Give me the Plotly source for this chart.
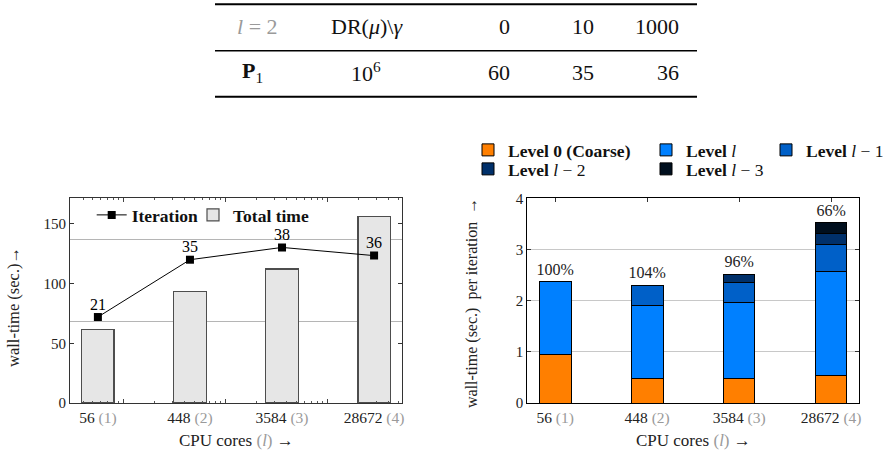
import math
import plotly.graph_objects as go

# ---------------- data ----------------
cores = [56, 448, 3584, 28672]
levels = [1, 2, 3, 4]
total_time = [61.2, 93.0, 112.1, 155.9]
iterations = [21, 35, 38, 36]

level0 = [0.956, 0.488, 0.488, 0.539]
level_l = [1.417, 1.424, 1.475, 2.029]
level_l1 = [0.0, 0.390, 0.398, 0.534]
level_l2 = [0.0, 0.0, 0.156, 0.208]
level_l3 = [0.0, 0.0, 0.0, 0.214]
efficiency = ["100%", "104%", "96%", "66%"]

gammas = ["0", "10", "1000"]
p1_iterations = ["60", "35", "36"]

# ---------------- helpers ----------------
W, H = 883, 453
FONT = "Liberation Serif"
GRAY = "#9a9a9a"


def px(x):
    return x / W


def py(y):
    return 1 - y / H


cats = [str(c) for c in cores]
ticktext = [f'{c} <span style="color:{GRAY}">({l})</span>' for c, l in zip(cores, levels)]

fig = go.Figure()

# ---------------- left chart ----------------
fig.add_trace(go.Bar(
    x=cats, y=total_time, name="<b>Total time</b>", width=0.351,
    marker=dict(color="#e6e6e6", line=dict(color="#4d4d4d", width=1.2)),
    xaxis="x", yaxis="y", legend="legend2", hoverinfo="skip",
))
fig.add_trace(go.Scatter(
    x=cores, y=iterations, name="<b>Iteration</b>", mode="lines+markers",
    line=dict(color="black", width=1), marker=dict(symbol="square", size=8, color="black"),
    xaxis="x3", yaxis="y3", legend="legend", hoverinfo="skip",
))
fig.add_trace(go.Scatter(
    x=cores, y=iterations, mode="markers+text", text=[str(v) for v in iterations],
    textposition="top center", textfont=dict(family=FONT, size=16, color="black"),
    marker=dict(size=4, color="rgba(0,0,0,0)"),
    xaxis="x3", yaxis="y3", showlegend=False, hoverinfo="skip",
))

# ---------------- right chart ----------------
stack = [
    (level0, "<b>Level 0 (Coarse)</b>", "#ff7f00", "legend3"),
    (level_l, "<b>Level </b><i>l</i>", "#0080ff", "legend4"),
    (level_l1, "<b>Level </b><i>l</i> − 1", "#0060c8", "legend5"),
    (level_l2, "<b>Level </b><i>l</i> − 2", "#00306a", "legend6"),
    (level_l3, "<b>Level </b><i>l</i> − 3", "#000f1e", "legend7"),
]
for vals, name, col, lg in stack:
    fig.add_trace(go.Bar(
        x=cats, y=vals, name=name, width=0.345,
        marker=dict(color=col, line=dict(color="black", width=1)),
        xaxis="x2", yaxis="y2", legend=lg, hoverinfo="skip",
    ))

totals = [a + b + c + d + e for a, b, c, d, e in zip(level0, level_l, level_l1, level_l2, level_l3)]
fig.add_trace(go.Scatter(
    x=cats, y=totals, mode="markers+text", text=efficiency, textposition="top center",
    marker=dict(size=3, color="rgba(0,0,0,0)"),
    textfont=dict(family=FONT, size=16, color="#222"), showlegend=False,
    xaxis="x2", yaxis="y2", hoverinfo="skip",
))

# ---------------- layout ----------------
dom_y = [py(403), py(198.3)]
cat_range = [-0.303, 3.3]
lg8 = math.log10(8)
log_range = [math.log10(cores[0]) - 0.303 * lg8, math.log10(cores[-1]) + 0.3 * lg8]
minor_ticks = [m * 10 ** e for e in range(1, 5) for m in range(2, 10)]

axis_font = dict(family=FONT, size=15, color="#222")
xtick_font = dict(family=FONT, size=15.5, color="#222")

fig.update_layout(
    template="none",
    width=W, height=H, margin=dict(l=0, r=0, t=0, b=0, pad=0, autoexpand=False),
    paper_bgcolor="white", plot_bgcolor="white",
    barmode="stack", hovermode=False,
    font=dict(family=FONT, size=15, color="#222"),
    xaxis=dict(
        domain=[px(70), px(401.7)], anchor="y", type="category", automargin=False,
        range=cat_range, tickmode="array", tickvals=cats, ticktext=ticktext,
        ticks="", showline=True, linecolor="#333", linewidth=1, mirror=True,
        tickfont=xtick_font, showgrid=False, zeroline=False,
    ),
    yaxis=dict(
        domain=dom_y, anchor="x", range=[0, 171.3], automargin=False,
        tickvals=[0, 50, 100, 150], ticks="inside", ticklen=4, tickcolor="#333",
        showline=True, linecolor="#333", linewidth=1, mirror="ticks",
        showgrid=False, zeroline=False, tickfont=axis_font,
    ),
    xaxis3=dict(
        type="log", overlaying="x", anchor="y", range=log_range, automargin=False,
        tickvals=[100, 1000, 10000], ticks="inside", ticklen=4, tickcolor="#444",
        showticklabels=False, showline=False, mirror="ticks", showgrid=False,
        zeroline=False,
        minor=dict(tickmode="array", tickvals=minor_ticks, ticks="inside",
                   ticklen=2, tickcolor="#555", showgrid=False),
    ),
    yaxis3=dict(
        overlaying="y", anchor="x", side="right", range=[0, 50], automargin=False,
        tickvals=[20, 40], showticklabels=False, ticks="",
        showgrid=True, gridcolor="#b5b5b5", gridwidth=1, zeroline=False, showline=False,
    ),
    xaxis2=dict(
        domain=[px(527.3), px(858.7)], anchor="y2", type="category", automargin=False,
        range=cat_range, tickmode="array", tickvals=cats, ticktext=ticktext,
        ticks="inside", ticklen=4, tickcolor="#333", showline=True, linecolor="black",
        linewidth=1, mirror="ticks", tickfont=xtick_font, showgrid=False,
        zeroline=False, layer="below traces",
    ),
    yaxis2=dict(
        domain=dom_y, anchor="x2", range=[0, 4], automargin=False,
        tickvals=[0, 1, 2, 3, 4], ticks="inside", ticklen=4, tickcolor="#333",
        showline=True, linecolor="black", linewidth=1, mirror="ticks",
        showgrid=True, gridcolor="#c8c8c8", zeroline=False, tickfont=axis_font,
        layer="below traces",
    ),
)

leg_common = dict(bgcolor="rgba(0,0,0,0)", borderwidth=0, xanchor="left", yanchor="middle",
                  font=dict(family=FONT, size=17.5, color="#111"), traceorder="normal",
                  itemclick=False, itemdoubleclick=False)
# (text start x, row centre y) of each legend entry; plotly puts the text ~40px right of x
legend_pos = {
    "legend": (131.7, 215), "legend2": (233, 215),
    "legend3": (508, 150), "legend4": (686, 150), "legend5": (806, 150),
    "legend6": (508, 169), "legend7": (686, 169),
}
fig.update_layout(**{k: dict(x=px(tx - 40), y=py(ty), **leg_common)
                     for k, (tx, ty) in legend_pos.items()})

# ---------------- axis titles ----------------
ann = []
ann.append(dict(text="wall-time (sec.)→", x=px(13), y=py(307), textangle=-90,
                font=dict(family=FONT, size=16.5, color="#222")))
ann.append(dict(text="wall-time (sec.)&nbsp;&nbsp;per iteration&nbsp;&nbsp;→", x=px(472), y=py(303),
                textangle=-90, font=dict(family=FONT, size=16, color="#222")))
xt = f'CPU cores <span style="color:{GRAY}">(<i>l</i>)</span> →'
ann.append(dict(text=xt, x=px(236), y=py(440), font=dict(family=FONT, size=17, color="#222")))
ann.append(dict(text=xt, x=px(693), y=py(440), font=dict(family=FONT, size=17, color="#222")))

# ---------------- table ----------------
TF = dict(family=FONT, size=22, color="#111")
header = [
    (f'<span style="color:{GRAY}"><i>l</i> = 2</span>', 257, "center"),
    ("DR(<i>μ</i>)\\<i>γ</i>", 367, "center"),
    (gammas[0], 512, "right"),
    (gammas[1], 596, "right"),
    (gammas[2], 681, "right"),
]
row = [
    ("<b>P</b><sub>1</sub>", 252, "center"),
    ("10<sup>6</sup>", 366, "center"),
    (p1_iterations[0], 512, "right"),
    (p1_iterations[1], 596, "right"),
    (p1_iterations[2], 681, "right"),
]
for txt, xx, anc in header:
    ann.append(dict(text=txt, x=px(xx), y=py(27), xanchor=anc, font=TF))
for txt, xx, anc in row:
    ann.append(dict(text=txt, x=px(xx), y=py(72), xanchor=anc, font=TF))

for a in ann:
    a.update(xref="paper", yref="paper", showarrow=False)
    a.setdefault("xanchor", "center")
    a.setdefault("yanchor", "middle")
fig.update_layout(annotations=ann)

shapes = []
for yy, wdt in [(4.3, 2), (50.7, 1.4), (96.7, 2)]:
    shapes.append(dict(type="line", xref="paper", yref="paper", x0=px(215), x1=px(697),
                       y0=py(yy), y1=py(yy), line=dict(color="black", width=wdt)))
fig.update_layout(shapes=shapes)

# remove the browser's default 8px page margin so the figure fills the window exactly
fig.write_html("out.html", config={"displayModeBar": False},
               post_script="document.body.style.margin='0';")
